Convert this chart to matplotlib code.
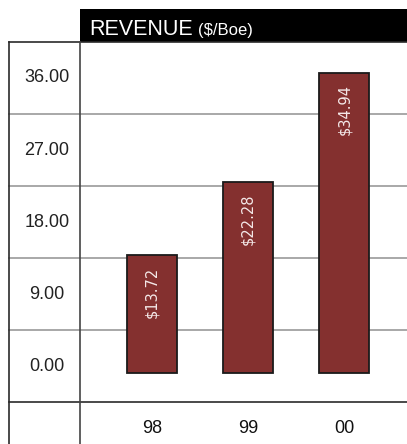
import matplotlib
matplotlib.use("Agg")
import matplotlib.pyplot as plt
from matplotlib.patches import Rectangle
from matplotlib.lines import Line2D

# ---- data ----
categories = ["98", "99", "00"]
values = [13.72, 22.28, 34.94]
value_labels = ["$13.72", "$22.28", "$34.94"]
ytick_labels = ["36.00", "27.00", "18.00", "9.00", "0.00"]
title_main = "REVENUE"
title_unit = "($/Boe)"

W, H = 407, 444
DPI = 100
fig = plt.figure(figsize=(W / DPI, H / DPI), dpi=DPI)
fig.patch.set_facecolor("white")

# overlay axes in pixel coordinates for the table frame
ov = fig.add_axes([0, 0, 1, 1])
ov.set_xlim(0, W)
ov.set_ylim(H, 0)
ov.axis("off")

# title block
ov.add_patch(Rectangle((80, 9), W - 80, 33, facecolor="black", edgecolor="none"))
ov.text(89, 35, title_main, color="white", fontsize=15.5, family="Liberation Sans",
        va="baseline", ha="left")
ov.text(198, 35, title_unit, color="white", fontsize=12, family="Liberation Sans",
        va="baseline", ha="left")

# table rows
row_edges = [42, 114, 186, 258, 330, 402]
for i, y in enumerate(row_edges):
    if y in (42, 402):
        ov.add_line(Line2D([9, W], [y, y], color="#2a2a2a", lw=1.2))
    else:
        ov.add_line(Line2D([9, W], [y, y], color="#9a9a9a", lw=1.2))
ov.add_line(Line2D([9, 9], [42, H], color="#2a2a2a", lw=1.2))
ov.add_line(Line2D([80, 80], [42, H], color="#444444", lw=1.2))

# y labels (cells of left column)
for i, lab in enumerate(ytick_labels):
    yc = (row_edges[i] + row_edges[i + 1]) / 2
    ov.text(47, yc, lab, fontsize=13, family="Liberation Sans", color="#222222",
            ha="center", va="center")

# bar axes
ax_left, ax_right, ax_top, ax_bot = 80, W, 42, 402
ax = fig.add_axes([ax_left / W, 1 - ax_bot / H, (ax_right - ax_left) / W, (ax_bot - ax_top) / H])
ax.patch.set_alpha(0)
for s in ax.spines.values():
    s.set_visible(False)
ax.set_xticks([])
ax.set_yticks([])

pitch = 96.3
c0 = 151.7
ax.set_xlim((ax_left - c0) / pitch, (ax_right - c0) / pitch)
scale = 8.59
base = 373.3
ax.set_ylim(-(ax_bot - base) / scale, (base - ax_top) / scale)

xs = list(range(len(categories)))
ax.bar(xs, values, width=0.52, color="#84302f", edgecolor="#1a1a1a", linewidth=1.3, zorder=3)
for x, v, lab in zip(xs, values, value_labels):
    ax.annotate(lab, (x, v), xytext=(0, -8), textcoords="offset points",
                rotation=90, ha="center", va="top", color="#f4e8e8",
                fontsize=10.5, family="DejaVu Sans", zorder=4)

# category labels in bottom row
for x, cat in zip(xs, categories):
    px = c0 + pitch * x
    ov.text(px, 428, cat, fontsize=13, family="Liberation Sans", color="#111111",
            ha="center", va="center")

fig.savefig("out.png", dpi=DPI)
